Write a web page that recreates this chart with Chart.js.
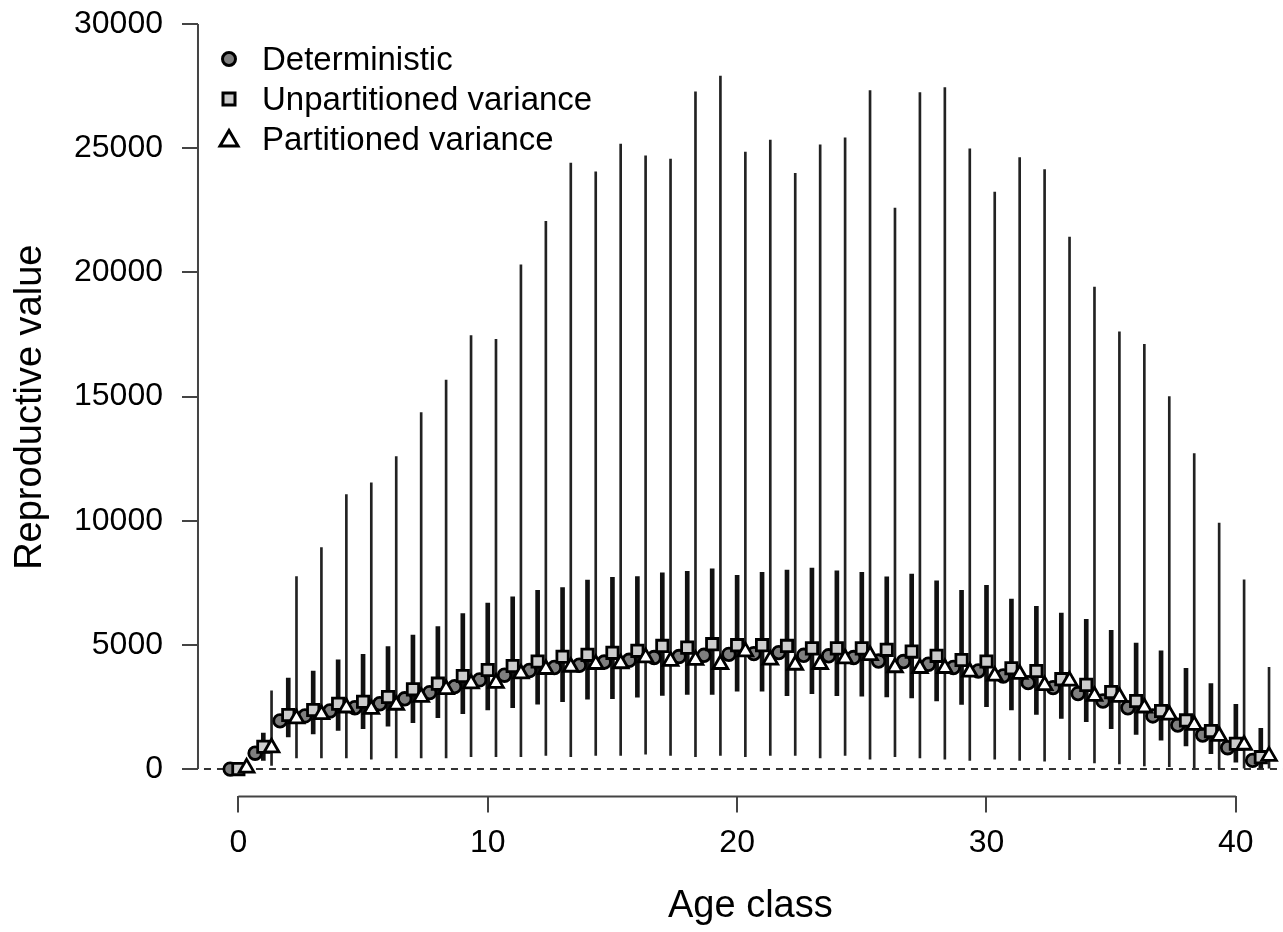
<!DOCTYPE html>
<html>
<head>
<meta charset="utf-8">
<script src="https://cdn.jsdelivr.net/npm/chart.js@4.4.1/dist/chart.umd.min.js"></script>
<style>
  html, body { margin: 0; padding: 0; background: #fff; overflow: hidden; width: 1283px; height: 932px; }
  #wrap { position: relative; width: 1314px; height: 932px; }
  #legend { position: absolute; left: 0; top: 0; font-family: "Liberation Sans", Arial, sans-serif; font-size: 33px; color: #000; }
  .row { position: absolute; left: 214px; height: 40px; display: flex; align-items: center; white-space: nowrap; }
  .row svg { width: 30px; height: 30px; margin-right: 18px; }
</style>
</head>
<body>
<div id="wrap">
  <canvas id="graphAge" width="1314" height="932"></canvas>
  <div id="legend">
    <div class="row" style="top:39px">
      <svg viewBox="0 0 30 30"><circle cx="15" cy="15" r="6.5" fill="#7f7f7f" stroke="#000" stroke-width="3"/></svg>Deterministic
    </div>
    <div class="row" style="top:79px">
      <svg viewBox="0 0 30 30"><rect x="9" y="9" width="12" height="12" fill="#cccccc" stroke="#000" stroke-width="3"/></svg>Unpartitioned variance
    </div>
    <div class="row" style="top:119px">
      <svg viewBox="0 0 30 30"><polygon points="15,6.5 24,22 6,22" fill="#fff" stroke="#000" stroke-width="3" stroke-linejoin="miter"/></svg>Partitioned variance
    </div>
  </div>
</div>
<script>
// age classes 0..41
let ages = [];
for (let i = 0; i <= 41; i++) ages.push(i);

// point estimates
let deterministic = [0, 640, 1940, 2140, 2340, 2470, 2630, 2830, 3080, 3320,
    3590, 3780, 3970, 4090, 4180, 4310, 4380, 4490, 4530, 4580,
    4620, 4650, 4690, 4580, 4560, 4490, 4350, 4330, 4220, 4090,
    3950, 3750, 3480, 3280, 3040, 2740, 2470, 2140, 1770, 1370,
    860, 350];
let unpartitioned = [0, 900, 2180, 2380, 2630, 2710, 2900, 3210, 3440, 3750,
    3990, 4150, 4330, 4520, 4600, 4680, 4760, 4960, 4890, 5030,
    4990, 4990, 4960, 4860, 4860, 4860, 4800, 4730, 4560, 4390,
    4330, 4060, 3950, 3620, 3390, 3100, 2740, 2340, 1960, 1530,
    1020, 480];
let partitioned = [50, 860, 2030, 2200, 2470, 2410, 2580, 2900, 3210, 3440,
    3460, 3840, 4020, 4110, 4220, 4250, 4490, 4350, 4390, 4220,
    4730, 4400, 4190, 4220, 4450, 4580, 4090, 4060, 4060, 3910,
    3750, 3820, 3370, 3550, 2940, 2900, 2470, 2180, 1770, 1330,
    970, 520];

// intervals, unpartitioned variance (thick lines)
let unpartLow = [0, 350, 1290, 1420, 1560, 1630, 1730, 1870, 2070, 2230,
    2380, 2470, 2610, 2710, 2810, 2830, 2900, 2970, 3010, 3010,
    3140, 3140, 2960, 3040, 2960, 2940, 2910, 2870, 2740, 2600,
    2510, 2380, 2200, 2040, 1910, 1630, 1400, 1160, 930, 620,
    280, 0];
let unpartHigh = [0, 1450, 3660, 3950, 4400, 4620, 4930, 5400, 5740, 6260,
    6680, 6940, 7200, 7310, 7610, 7720, 7750, 7900, 7960, 8060,
    7800, 7920, 8010, 8090, 7980, 7920, 7740, 7850, 7580, 7200,
    7400, 6840, 6550, 6280, 6030, 5590, 5070, 4760, 4060, 3440,
    2610, 1640];

// intervals, partitioned variance (thin lines)
let partLow = [0, 150, 450, 450, 450, 400, 450, 450, 450, 500,
    500, 500, 550, 500, 550, 550, 600, 550, 500, 550,
    500, 550, 550, 450, 550, 400, 500, 450, 400, 350,
    400, 350, 320, 380, 250, 210, 130, 100, 60, 20,
    0, 0];
let partHigh = [50, 3150, 7750, 8920, 11050, 11530, 12580, 14350, 15660, 17450,
    17300, 20300, 22050, 24400, 24050, 25160, 24690, 24560, 27270, 27900,
    24840, 25320, 23990, 25130, 25420, 27320, 22590, 27240, 27440, 24970,
    23230, 24620, 24140, 21420, 19410, 17600, 17100, 15000, 12700, 9900,
    7620, 4100];

let xTicks = [0, 10, 20, 30, 40];
let yTicks = [0, 5000, 10000, 15000, 20000, 25000, 30000];

Chart.defaults.font.family = '"Liberation Sans", Arial, sans-serif';
Chart.defaults.color = "#000";

// R style axes (line only between first and last tick) and dashed zero line
const rAxes = {
    id: "rAxes",
    beforeDatasetsDraw(chart){
        let ctx = chart.ctx;
        let area = chart.chartArea;
        let y0 = chart.scales.y.getPixelForValue(0);
        ctx.save();
        ctx.setLineDash([7, 6]);
        ctx.lineWidth = 2;
        ctx.strokeStyle = "#333";
        ctx.beginPath();
        ctx.moveTo(area.left + 6, y0);
        ctx.lineTo(area.right, y0);
        ctx.stroke();
        ctx.restore();
    },
    afterDraw(chart){
        let ctx = chart.ctx;
        let area = chart.chartArea;
        let sx = chart.scales.x, sy = chart.scales.y;
        ctx.save();
        ctx.lineWidth = 2;
        ctx.strokeStyle = "#444";
        ctx.beginPath();
        ctx.moveTo(area.left, sy.getPixelForValue(yTicks[0]));
        ctx.lineTo(area.left, sy.getPixelForValue(yTicks[yTicks.length - 1]));
        ctx.moveTo(sx.getPixelForValue(xTicks[0]), area.bottom);
        ctx.lineTo(sx.getPixelForValue(xTicks[xTicks.length - 1]), area.bottom);
        ctx.stroke();
        ctx.restore();
    }
};

function points(values, shift){
    return ages.map((a, i) => ({x: a + shift, y: values[i]}));
}
function ranges(low, high, shift){
    return ages.map((a, i) => ({x: a + shift, y: [low[i], high[i]]}));
}

let myCanvas = document.getElementById("graphAge").getContext("2d");
let graph = new Chart(myCanvas, {
    type: "scatter",
    data: {
        datasets: [
            {
                label: "Partitioned variance",
                data: points(partitioned, 0.33),
                pointStyle: "triangle",
                pointRadius: 8.5,
                backgroundColor: "#ffffff",
                borderColor: "#000",
                borderWidth: 2.8,
                order: 1
            },
            {
                label: "Unpartitioned variance",
                data: points(unpartitioned, 0),
                pointStyle: "rect",
                pointRadius: 8,
                backgroundColor: "#cccccc",
                borderColor: "#000",
                borderWidth: 2.8,
                order: 2
            },
            {
                label: "Deterministic",
                data: points(deterministic, -0.33),
                pointStyle: "circle",
                pointRadius: 6.3,
                backgroundColor: "#7f7f7f",
                borderColor: "#000",
                borderWidth: 2.8,
                order: 3
            },
            {
                type: "bar",
                label: "Unpartitioned interval",
                data: ranges(unpartLow, unpartHigh, 0),
                backgroundColor: "#111",
                borderWidth: 0,
                barThickness: 4,
                grouped: false,
                order: 4
            },
            {
                type: "bar",
                label: "Partitioned interval",
                data: ranges(partLow, partHigh, 0.33),
                backgroundColor: "#222",
                borderWidth: 0,
                barThickness: 2,
                grouped: false,
                order: 5
            }
        ]
    },
    options: {
        responsive: false,
        animation: false,
        events: [],
        layout: { padding: { top: 18, left: 0, right: 0, bottom: 0 } },
        plugins: {
            legend: { display: false },
            tooltip: { enabled: false }
        },
        scales: {
            x: {
                type: "linear",
                min: -1.62,
                max: 42.68,
                offset: false,
                afterBuildTicks: axis => { axis.ticks = xTicks.map(v => ({value: v})); },
                border: { display: false },
                grid: { offset: false, drawOnChartArea: false, drawTicks: true, tickLength: 16, color: "#444", lineWidth: 2 },
                ticks: { font: { size: 32 }, color: "#000", padding: 12, maxRotation: 0, autoSkip: false, callback: v => String(v) },
                title: { display: true, text: "Age class", font: { size: 38 }, color: "#000", padding: { top: 9.4, bottom: 2.2 } }
            },
            y: {
                type: "linear",
                min: -1100,
                max: 30240,
                afterBuildTicks: axis => { axis.ticks = yTicks.map(v => ({value: v})); },
                afterFit: axis => { axis.paddingTop = 0; },
                border: { display: false },
                grid: { drawOnChartArea: false, drawTicks: true, tickLength: 16, color: "#444", lineWidth: 2 },
                ticks: { font: { size: 32 }, color: "#000", padding: 19, autoSkip: false, callback: v => String(v) },
                title: { display: true, text: "Reproductive value", font: { size: 38 }, color: "#000", padding: { top: 8.2, bottom: 1.2 } }
            }
        }
    },
    plugins: [rAxes]
});
</script>
</body>
</html>
